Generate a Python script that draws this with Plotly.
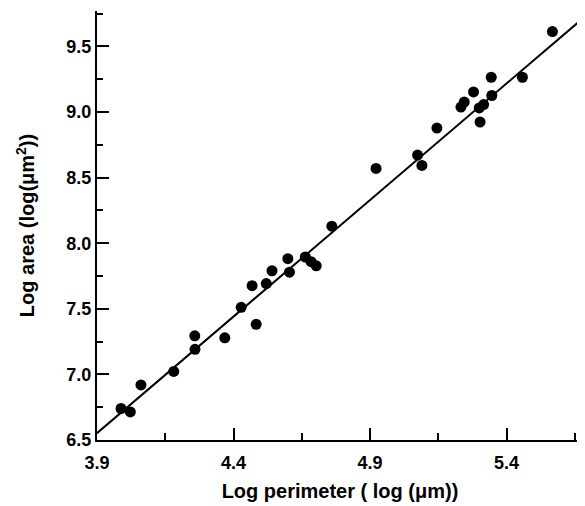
import plotly.graph_objects as go

# Data
log_perimeter = [3.988, 4.022, 4.061, 4.181, 4.258, 4.259, 4.368, 4.428, 4.468, 4.483,
                 4.520, 4.541, 4.599, 4.605, 4.663, 4.684, 4.703, 4.760, 4.922, 5.074,
                 5.090, 5.145, 5.233, 5.245, 5.279, 5.300, 5.316, 5.303, 5.344, 5.346,
                 5.458, 5.568]
log_area = [6.740, 6.714, 6.920, 7.023, 7.294, 7.191, 7.279, 7.511, 7.676, 7.382,
            7.692, 7.790, 7.882, 7.779, 7.895, 7.859, 7.828, 8.130, 8.570, 8.672,
            8.593, 8.878, 9.038, 9.076, 9.153, 9.031, 9.057, 8.924, 9.265, 9.126,
            9.265, 9.613]

fit_x = [3.9, 5.68]
fit_y = [6.552, 9.715]

x_ticks = [3.9, 4.4, 4.9, 5.4]
y_ticks = [6.5, 7.0, 7.5, 8.0, 8.5, 9.0, 9.5]

FONT = "Liberation Sans"

fig = go.Figure()
fig.add_trace(go.Scatter(x=fit_x, y=fit_y, mode="lines",
                         line=dict(color="black", width=2), hoverinfo="skip",
                         showlegend=False, cliponaxis=True))
fig.add_trace(go.Scatter(x=log_perimeter, y=log_area, mode="markers",
                         marker=dict(color="black", size=11, line=dict(width=0)),
                         showlegend=False, cliponaxis=False))

axis_common = dict(
    showgrid=False, zeroline=False, showline=True, linecolor="black", linewidth=2,
    ticks="inside", ticklen=12, tickwidth=2, tickcolor="black",
    tickfont=dict(family=FONT, size=18, color="black", weight="bold"),
    tickformat=".1f",
)

fig.update_xaxes(
    range=[3.9, 5.68], tickmode="array", tickvals=x_ticks,
    ticklabelstandoff=5,
    minor=dict(ticks="inside", ticklen=7, tickwidth=2, tickcolor="black", dtick=0.25, tick0=3.9),
    title=dict(text="Log perimeter ( log (\u03bcm))",
               font=dict(family=FONT, size=20, color="black", weight="bold"), standoff=12),
    **axis_common,
)
fig.update_yaxes(
    range=[6.5, 9.77], tickmode="array", tickvals=y_ticks,
    minor=dict(ticks="inside", ticklen=6, tickwidth=2, tickcolor="black", dtick=0.25, tick0=6.5),
    title=dict(text="Log area (log(\u03bcm<sup>2</sup>))",
               font=dict(family=FONT, size=20, color="black", weight="bold"), standoff=26),
    **axis_common,
)

# The page body has a default 8px margin, so the figure is sized/margined to compensate
fig.update_layout(
    width=577, height=498,
    margin=dict(l=89, r=2, t=3, b=66, autoexpand=False),
    plot_bgcolor="white", paper_bgcolor="white",
    showlegend=False,
)

fig.write_html("out.html")
